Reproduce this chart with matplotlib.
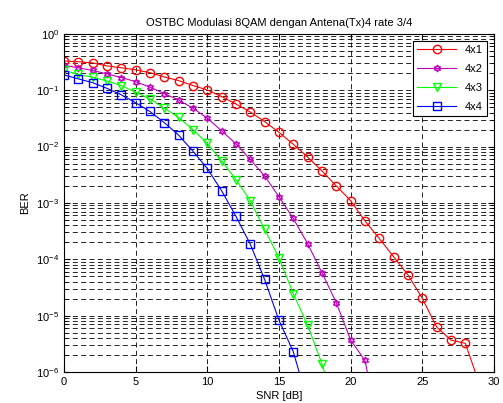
import numpy as np
import matplotlib
matplotlib.use('Agg')
import matplotlib.pyplot as plt

'''
BER vs SNR, OSTBC 8QAM with 4 Tx antennas, rate 3/4
'''

# SNR points (dB)
snr_4x1 = np.arange(0, 30)
snr_4x2 = np.arange(0, 23)
snr_4x3 = np.arange(0, 20)
snr_4x4 = np.arange(0, 18)

# BER (last value of each lies below the axis)
ber_4x1 = [0.33, 0.32, 0.305, 0.27, 0.25, 0.23, 0.205, 0.172, 0.148, 0.121,
           0.101, 0.077, 0.057, 0.041, 0.0277, 0.0179, 0.011, 0.00653, 0.0037, 0.002,
           0.0011, 4.8e-4, 2.34e-4, 1.11e-4, 5.3e-5, 2.03e-5, 6.3e-6, 3.67e-6, 3.22e-6, 6e-7]
ber_4x2 = [0.278, 0.25, 0.224, 0.195, 0.168, 0.142, 0.113, 0.087, 0.067, 0.048,
           0.032, 0.019, 0.0112, 0.0059, 0.003, 0.00129, 5.3e-4, 1.9e-4, 5.8e-5, 1.7e-5,
           3.7e-6, 1.6e-6, 1e-7]
ber_4x3 = [0.225, 0.19, 0.17, 0.146, 0.121, 0.092, 0.07, 0.048, 0.033, 0.020,
           0.0114, 0.0056, 0.0026, 0.0011, 3.4e-4, 1.07e-4, 2.46e-5, 6.8e-6, 1.4e-6, 2e-7]
ber_4x4 = [0.187, 0.159, 0.136, 0.108, 0.083, 0.060, 0.042, 0.0266, 0.016, 0.0083,
           0.0041, 0.00165, 5.8e-4, 1.86e-4, 4.4e-5, 8.3e-6, 2.3e-6, 3e-7]

labels = ['4x1', '4x2', '4x3', '4x4']

plt.rcParams['font.family'] = ['Liberation Sans', 'DejaVu Sans']
plt.rcParams['font.size'] = 8

fig = plt.figure(figsize=(5.03, 4.03), dpi=100)
ax = fig.add_axes([0.127, 0.077, 0.855, 0.839])

hexagram = (6, 1, 0)
lw = 0.8
ax.semilogy(snr_4x1, ber_4x1, color='r', marker='o', mfc='none', ms=6, lw=lw, label=labels[0])
ax.semilogy(snr_4x2, ber_4x2, color='m', marker=hexagram, mfc='none', ms=5, lw=lw, label=labels[1])
ax.semilogy(snr_4x3, ber_4x3, color='#00ff00', marker='v', mfc='none', ms=6, lw=lw, label=labels[2])
ax.semilogy(snr_4x4, ber_4x4, color='b', marker='s', mfc='none', ms=6, lw=lw, label=labels[3])

ax.set_xlim(0, 30)
ax.set_ylim(1e-6, 1)
ax.set_xticks([0, 5, 10, 15, 20, 25, 30])

# matlab style dashed grid
ax.grid(True, which='major', color='black', linestyle=(0, (6, 4)), linewidth=0.6)
ax.grid(True, which='minor', axis='y', color='black', linestyle=(0, (6, 4)), linewidth=0.6)
ax.tick_params(which='both', direction='in', top=True, right=True)
ax.tick_params(which='major', length=4)
ax.tick_params(which='minor', length=2)
for s in ax.spines.values():
    s.set_linewidth(0.8)

ax.set_title('OSTBC Modulasi 8QAM dengan Antena(Tx)4 rate 3/4', fontsize=8, pad=6)
ax.set_xlabel('SNR [dB]', labelpad=3)
ax.set_ylabel('BER')

leg = ax.legend(loc='upper right', fancybox=False, edgecolor='black', framealpha=1,
                handlelength=3.5, fontsize=8, borderaxespad=0.6, labelspacing=0.8)
leg.get_frame().set_linewidth(0.8)

fig.savefig('out.png', dpi=100)
